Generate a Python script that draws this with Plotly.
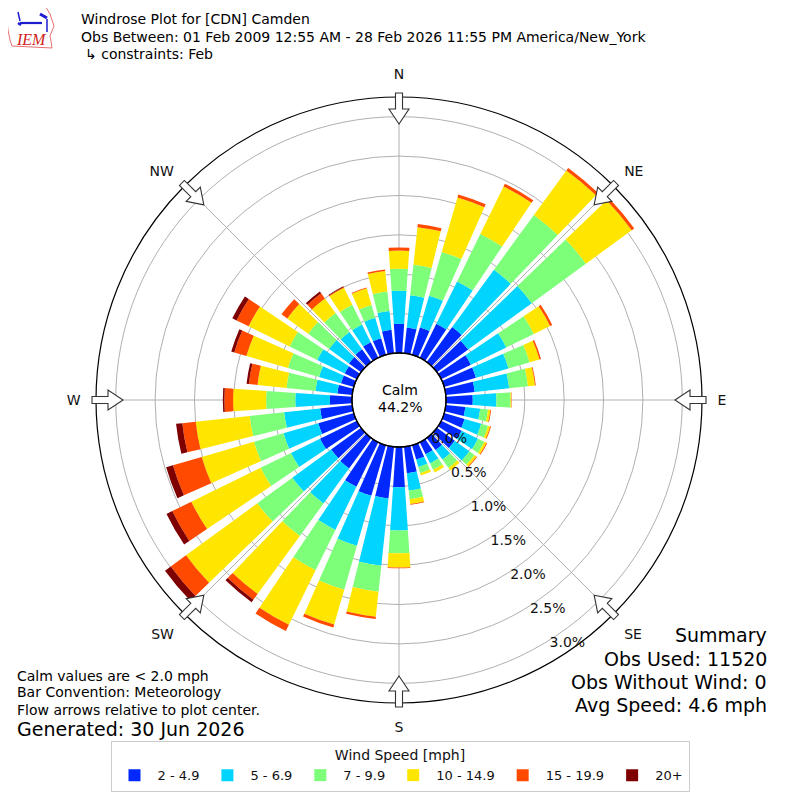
import math
import plotly.graph_objects as go

# wind direction bins (degrees, meteorological convention)
directions = [0, 10, 20, 30, 40, 50, 60, 70, 80, 90, 100, 110, 120, 130, 140, 150, 160, 170,
              180, 190, 200, 210, 220, 230, 240, 250, 260, 270, 280, 290, 300, 310, 320, 330, 340, 350]

speed_bins = ["2 - 4.9", "5 - 6.9", "7 - 9.9", "10 - 14.9", "15 - 19.9", "20+"]
bin_colors = ["#0028ff", "#00d4ff", "#7dff7a", "#ffe600", "#ff4a00", "#7f0000"]

# frequency (%) of each speed bin per direction
pct_2_5 = [0.37, 0.33, 0.36, 0.48, 0.55, 0.49, 0.42, 0.42, 0.37, 0.34, 0.25, 0.27, 0.29, 0.28, 0.19, 0.17, 0.19, 0.34,
           0.51, 0.66, 0.67, 0.63, 0.48, 0.47, 0.52, 0.47, 0.41, 0.28, 0.19, 0.17, 0.17, 0.19, 0.20, 0.22, 0.22, 0.30]
pct_5_7 = [0.42, 0.41, 0.42, 0.60, 0.90, 1.00, 0.50, 0.43, 0.44, 0.30, 0.19, 0.22, 0.23, 0.23, 0.15, 0.13, 0.10, 0.22,
           0.55, 0.86, 0.66, 0.61, 0.55, 0.61, 0.41, 0.46, 0.46, 0.44, 0.28, 0.29, 0.39, 0.31, 0.27, 0.25, 0.27, 0.24]
pct_7_10 = [0.28, 0.39, 0.58, 0.67, 0.86, 0.85, 0.39, 0.28, 0.24, 0.18, 0.10, 0.09, 0.09, 0.08, 0.13, 0.09, 0.08, 0.11,
            0.29, 0.33, 0.58, 0.57, 0.51, 0.55, 0.43, 0.39, 0.44, 0.37, 0.37, 0.41, 0.39, 0.33, 0.30, 0.28, 0.17, 0.25]
pct_10_15 = [0.23, 0.48, 0.72, 0.67, 0.70, 0.72, 0.23, 0.13, 0.09, 0.01, 0.03, 0.03, 0.03, 0.03, 0.04, 0.04, 0.03, 0.06,
             0.18, 0.32, 0.46, 0.77, 0.91, 1.12, 0.98, 0.69, 0.69, 0.42, 0.37, 0.55, 0.58, 0.33, 0.23, 0.24, 0.22, 0.26]
pct_15_20 = [0.04, 0.04, 0.04, 0.04, 0.04, 0.04, 0.03, 0.02, 0.01, 0.005, 0.01, 0.01, 0.01, 0.01, 0.0, 0.0, 0.0, 0.01,
             0.01, 0.03, 0.04, 0.09, 0.09, 0.24, 0.27, 0.38, 0.17, 0.11, 0.11, 0.16, 0.17, 0.09, 0.08, 0.01, 0.01, 0.02]
pct_20_up = [0.0, 0.0, 0.0, 0.0, 0.0, 0.0, 0.0, 0.0, 0.0, 0.0, 0.0, 0.0, 0.0, 0.0, 0.0, 0.0, 0.0, 0.0,
             0.0, 0.0, 0.0, 0.0, 0.04, 0.09, 0.08, 0.09, 0.08, 0.02, 0.03, 0.04, 0.06, 0.0, 0.03, 0.01, 0.0, 0.0]

compass_vals = [0, 45, 90, 135, 180, 225, 270, 315]
compass_text = ["N", "NE", "E", "SE", "S", "SW", "W", "NW"]
ring_vals = [0.0, 0.5, 1.0, 1.5, 2.0, 2.5, 3.0]
ring_text = ["0.0%", "0.5%", "1.0%", "1.5%", "2.0%", "2.5%", "3.0%"]

FONT = "DejaVu Sans"
OFF = 8              # page margin of the browser body
W = H = 800 - OFF
CX, CY, R_OUT, R_HOLE = 399, 400, 303, 47
RAD_ANGLE = -60

fig = go.Figure()
for name, color, vals in zip(speed_bins, bin_colors,
                             [pct_2_5, pct_5_7, pct_7_10, pct_10_15, pct_15_20, pct_20_up]):
    fig.add_trace(go.Barpolar(r=vals, theta=directions, width=7.8, name=name,
                              marker=dict(color=color, line=dict(width=0))))


def px(x, y):
    # window pixel -> paper coordinates
    return (x - OFF) / W, 1 - (y - OFF) / H


def poly(points):
    return "M " + " L ".join(f"{px(a, b)[0]:.5f},{px(a, b)[1]:.5f}" for a, b in points) + " Z"


def arrow_path(bearing):
    b = math.radians(bearing)
    ux, uy = math.sin(b), -math.cos(b)
    vx, vy = math.cos(b), math.sin(b)
    pts = [(276, 0), (291, -10), (291, -3.5), (307, -3.5), (307, 3.5), (291, 3.5), (291, 10)]
    return poly([(CX + ux * r + vx * w, CY + uy * r + vy * w) for r, w in pts])


shapes = []
# calm circle
x0, y1 = px(CX - R_HOLE, CY - R_HOLE)
x1, y0 = px(CX + R_HOLE, CY + R_HOLE)
shapes.append(dict(type="circle", xref="paper", yref="paper", x0=x0, x1=x1, y0=y0, y1=y1,
                   line=dict(color="black", width=1.3), layer="above"))
# flow arrows
for b in compass_vals:
    shapes.append(dict(type="path", xref="paper", yref="paper", path=arrow_path(b),
                       fillcolor="white", line=dict(color="#333333", width=1.1), layer="above"))

# IEM logo (rough)
iowa = [(6, 6), (45, 6), (47, 9), (50, 14), (52, 20), (54, 26), (52, 31), (50, 36), (51, 41),
        (52, 48), (12, 46), (10, 40), (8, 30), (7, 20), (6, 12)]
shapes.append(dict(type="path", xref="paper", yref="paper", path=poly(iowa),
                   line=dict(color="#e87070", width=1), fillcolor="white"))
for (a, b, c, d, w) in [(20, 23, 42, 23, 2.2), (18, 12, 20, 21, 1.5), (40, 14, 47, 18, 3),
                        (47, 19, 47, 32, 1.5), (18, 23, 21, 25, 2.5)]:
    xa, ya = px(a, b)
    xc, yc = px(c, d)
    shapes.append(dict(type="line", xref="paper", yref="paper", x0=xa, y0=ya, x1=xc, y1=yc,
                       line=dict(color="#1c1cd0", width=w)))

annotations = []


def text(x, y, s, size, anchor="left", color="black", font=FONT):
    ax, ay = px(x, y)
    annotations.append(dict(x=ax, y=ay, xref="paper", yref="paper", text=s, showarrow=False,
                            xanchor=anchor, yanchor="middle",
                            font=dict(family=font, size=size, color=color)))


text(31, 39, "<i>IEM</i>", 16, anchor="center", color="#d02020", font="Liberation Serif")
text(79, 19, "Windrose Plot for [CDN] Camden", 14)
text(79, 37, "Obs Between: 01 Feb 2009 12:55 AM - 28 Feb 2026 11:55 PM America/New_York", 14)
text(83, 54, "↳ constraints: Feb", 14)
text(400, 390, "Calm", 14, anchor="center")
text(400, 407, "44.2%", 14, anchor="center")
text(15, 676, "Calm values are < 2.0 mph", 14)
text(15, 692, "Bar Convention: Meteorology", 14)
text(15, 710, "Flow arrows relative to plot center.", 14)
text(15, 729, "Generated: 30 Jun 2026", 19)
text(769, 635, "Summary", 19, anchor="right")
text(769, 659, "Obs Used: 11520", 19, anchor="right")
text(769, 682, "Obs Without Wind: 0", 19, anchor="right")
text(769, 705, "Avg Speed: 4.6 mph", 19, anchor="right")

dx0, dy1 = px(CX - R_OUT, CY - R_OUT)
dx1, dy0 = px(CX + R_OUT, CY + R_OUT)
_, leg_top = px(0, 741)

fig.update_layout(
    width=W, height=H,
    margin=dict(l=0, r=0, t=0, b=0),
    paper_bgcolor="white",
    font=dict(family=FONT, size=13, color="#111111"),
    polar=dict(
        domain=dict(x=[dx0, dx1], y=[dy0, dy1]),
        hole=R_HOLE / R_OUT,
        bgcolor="white",
        barmode="stack",
        radialaxis=dict(range=[0, 3.25], tickvals=ring_vals, ticktext=ring_text, angle=RAD_ANGLE,
                        tickangle=RAD_ANGLE, side="counterclockwise", showline=False, ticks="",
                        gridcolor="#b0b0b0", gridwidth=1,
                        tickfont=dict(family=FONT, size=14, color="#111111")),
        angularaxis=dict(rotation=90, direction="clockwise", tickvals=compass_vals,
                         ticktext=compass_text, showline=True, linecolor="black", linewidth=1.2,
                         gridcolor="#b0b0b0", gridwidth=1, ticks="outside", ticklen=12,
                         tickcolor="rgba(0,0,0,0)",
                         tickfont=dict(family=FONT, size=14, color="#111111")),
    ),
    legend=dict(orientation="h", x=px(400, 0)[0], xanchor="center", y=leg_top, yanchor="top",
                bordercolor="#cccccc", borderwidth=1, bgcolor="white", itemwidth=36,
                title=dict(text="Wind Speed [mph]", side="top center", font=dict(size=14)),
                font=dict(family=FONT, size=13)),
    shapes=shapes,
    annotations=annotations,
)

fig.write_html("out.html")
